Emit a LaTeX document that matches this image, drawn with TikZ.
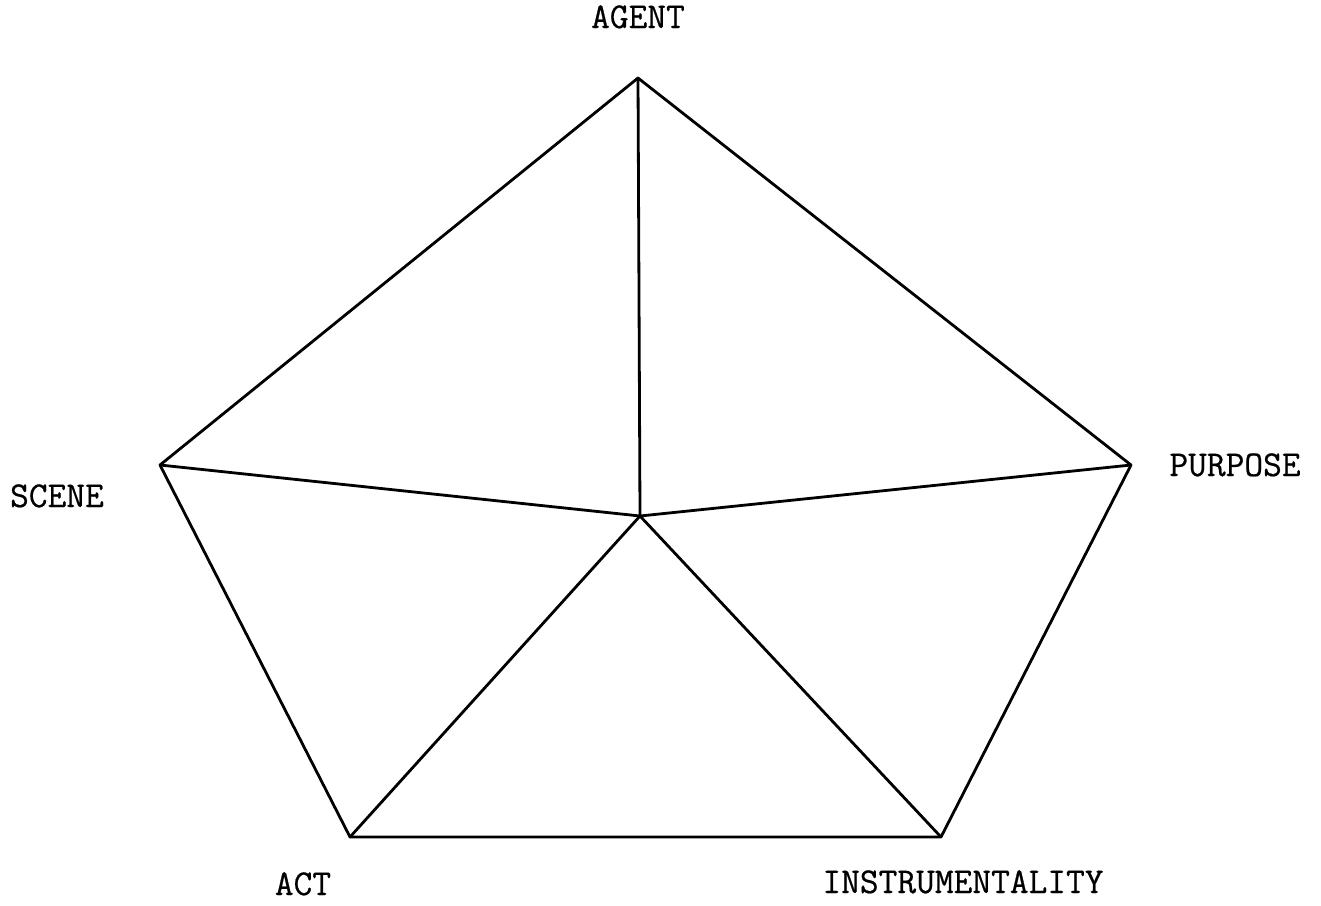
\documentclass[tikz,border=0pt]{standalone}
\usepackage{fontspec}
\newfontfamily\typewriter[FakeBold=0.6]{Latin Modern Mono}
\begin{document}
\begin{tikzpicture}[x=0.5pt,y=-0.5pt,
  edge/.style={line width=1.4pt,line join=round,line cap=round},
  lbl/.style={font=\typewriter\fontsize{18.2}{20}\selectfont,inner sep=0pt,anchor=base}]
\useasboundingbox (0,0) rectangle (1321,905);
\coordinate (agent) at (638,78);
\coordinate (scene) at (160,465);
\coordinate (purpose) at (1131,465);
\coordinate (act) at (350,837);
\coordinate (instr) at (941,837);
\coordinate (c) at (640,516);
\draw[edge] (agent) -- (purpose) -- (instr) -- (act) -- (scene) -- cycle;
\draw[edge] (c) -- (agent);
\draw[edge] (c) -- (scene);
\draw[edge] (c) -- (purpose);
\draw[edge] (c) -- (act);
\draw[edge] (c) -- (instr);
\node[lbl] (lagent) at (638,28) {AGENT};
\node[lbl] (lpurpose) at (1235,476) {PURPOSE};
\node[lbl] (lscene) at (57,507) {SCENE};
\node[lbl] (lact) at (303,895) {ACT};
\node[lbl] (linstr) at (963,893) {INSTRUMENTALITY};
\end{tikzpicture}
\end{document}
